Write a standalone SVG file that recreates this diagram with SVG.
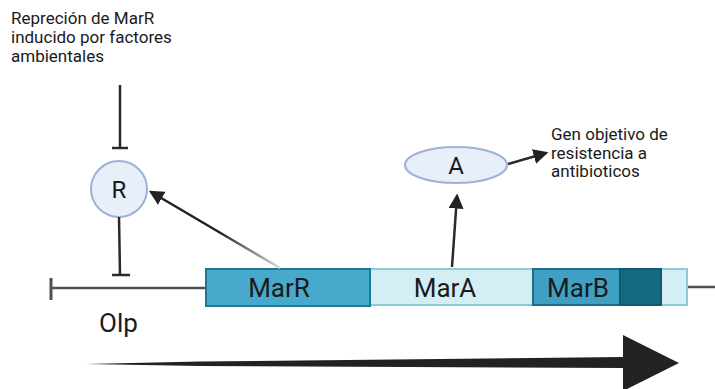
<svg xmlns="http://www.w3.org/2000/svg" width="715" height="389" viewBox="0 0 715 389">
<style>
.lbl{font-family:Roboto,"Liberation Sans",sans-serif;fill:#1a1a1a}
.small{font-size:17px}
.big{font-size:26px}
.node{fill:#e9eff9;stroke:#9fb1d9;stroke-width:2}
.ln{stroke:#2a2a2a;stroke-width:2.5;fill:none}
.dna{stroke:#4b5050;stroke-width:2.5;fill:none}
</style>
<defs>
<marker id="ah" markerWidth="6" markerHeight="6" refX="5" refY="3" orient="auto" markerUnits="strokeWidth">
<path d="M0,0 L6,3 L0,6 Z" fill="#222"/>
</marker>
<linearGradient id="fade" gradientUnits="userSpaceOnUse" x1="280" y1="268" x2="220" y2="232">
<stop offset="0" stop-color="#dcdcdc"/>
<stop offset="1" stop-color="#222"/>
</linearGradient>
</defs>

<g id="dna-line">
<line class="dna" x1="51" y1="288" x2="206" y2="288"/>
<line x1="51" y1="278" x2="51" y2="300" stroke="#4b5050" stroke-width="3"/>
<line class="dna" x1="687" y1="287" x2="715" y2="287"/>
</g>

<g id="marA">
<rect x="370" y="269" width="317" height="36" fill="#d3eef5" stroke="#8fcad7" stroke-width="2"/>
<text class="lbl big" x="445" y="297" text-anchor="middle">MarA</text>
</g>
<g id="marR">
<rect x="206" y="269" width="164" height="37" fill="#47a9cb" stroke="#1c7995" stroke-width="2"/>
<text class="lbl big" x="279" y="297" text-anchor="middle">MarR</text>
</g>
<g id="marB">
<rect x="533" y="269" width="128" height="36" fill="#40a0c4" stroke="#1a6e8b" stroke-width="2"/>
<rect x="620" y="269" width="41" height="36" fill="#136a82" stroke="#0f5a70" stroke-width="2"/>
<text class="lbl big" x="578" y="297" text-anchor="middle">MarB</text>
</g>

<g id="R">
<circle class="node" cx="119" cy="189" r="28"/>
<text class="lbl" x="119" y="198" font-size="24" text-anchor="middle">R</text>
</g>
<g id="A">
<ellipse class="node" cx="456" cy="165" rx="51" ry="18"/>
<text class="lbl" x="456" y="174" font-size="24" text-anchor="middle">A</text>
</g>

<g id="note-top">
<text class="lbl small" x="11" y="24">Repreción de MarR</text>
<text class="lbl small" x="11" y="43">inducido por factores</text>
<text class="lbl small" x="11" y="62">ambientales</text>
</g>
<g id="note-right">
<text class="lbl small" x="551" y="140">Gen objetivo de</text>
<text class="lbl small" x="551" y="158.5">resistencia a</text>
<text class="lbl small" x="551" y="177">antibioticos</text>
</g>
<g id="olp">
<text class="lbl big" x="99" y="332">Olp</text>
</g>

<g id="connectors">
<line class="ln" x1="120" y1="85" x2="120" y2="148"/>
<line class="ln" x1="112" y1="148" x2="128" y2="148"/>
<line class="ln" x1="119" y1="217" x2="120" y2="275"/>
<line class="ln" x1="112" y1="275" x2="130" y2="275"/>
<line x1="280" y1="268" x2="151" y2="192" stroke="url(#fade)" stroke-width="2.5" marker-end="url(#ah)"/>
<line class="ln" x1="452" y1="267" x2="457" y2="196" marker-end="url(#ah)"/>
<line class="ln" x1="508" y1="164" x2="546" y2="153" marker-end="url(#ah)"/>
<path d="M86,364 L200,361.5 L623,357 L623,335 L679,363 L623,391 L623,368 L200,366 Z" fill="#222"/>
</g>
</svg>
